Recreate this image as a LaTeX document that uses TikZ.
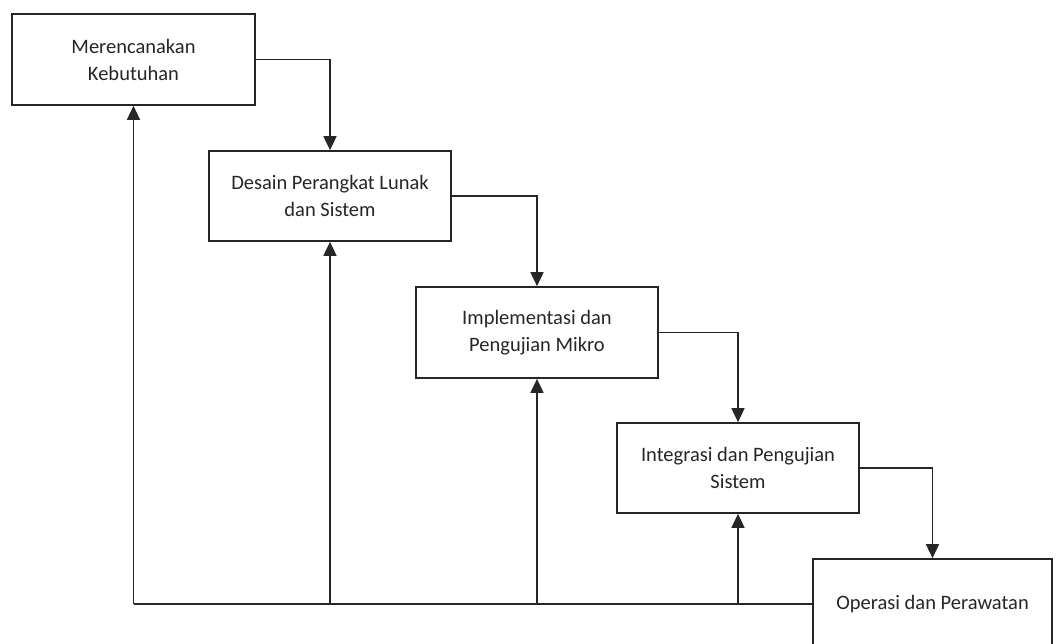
\documentclass[tikz,border=0pt]{standalone}
\usepackage{fontspec}
\setmainfont{Carlito}
\usetikzlibrary{arrows.meta}
\begin{document}
\begin{tikzpicture}[x=1pt,y=-1pt,
  stagebox/.style={draw=black!85, line width=1.7pt, fill=white, align=center,
    inner sep=0pt, font=\fontsize{20.5}{27}\selectfont, text=black!85},
  conn/.style={draw=black!85, line width=1.7pt, -{Triangle[width=13pt,length=14pt]}},
  plain/.style={draw=black!85, line width=1.7pt}]
\useasboundingbox (0,0) rectangle (1057,644);
\node[stagebox, minimum width=243pt, minimum height=91pt] (b1) at (133.5,59.5) {Merencanakan\\Kebutuhan};
\node[stagebox, minimum width=242pt, minimum height=90pt] (b2) at (330,196) {Desain Perangkat Lunak\\dan Sistem};
\node[stagebox, minimum width=242pt, minimum height=91pt] (b3) at (537,332.5) {Implementasi dan\\Pengujian Mikro};
\node[stagebox, minimum width=242pt, minimum height=90pt] (b4) at (738,468) {Integrasi dan Pengujian\\Sistem};
\node[stagebox, minimum width=239pt, minimum height=90pt] (b5) at (932.5,604) {Operasi dan Perawatan};
% forward flow
\draw[conn] (b1.east) -| (b2.north);
\draw[conn] (b2.east) -| (b3.north);
\draw[conn] (b3.east) -| (b4.north);
\draw[conn] (b4.east) -| (b5.north);
% feedback
\coordinate (j1) at (b1.south |- b5.west);
\coordinate (j2) at (b2.south |- b5.west);
\coordinate (j3) at (b3.south |- b5.west);
\coordinate (j4) at (b4.south |- b5.west);
\draw[plain] (b5.west) -- (j1);
\draw[conn] (j1) -- (b1.south);
\draw[conn] (j2) -- (b2.south);
\draw[conn] (j3) -- (b3.south);
\draw[conn] (j4) -- (b4.south);
\end{tikzpicture}
\end{document}
